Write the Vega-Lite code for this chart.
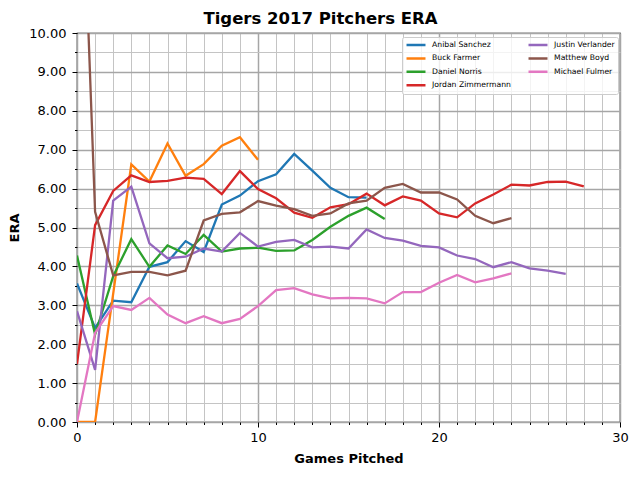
{
  "$schema": "https://vega.github.io/schema/vega-lite/v6.json",
  "width": 543,
  "height": 389,
  "autosize": {"type": "none"},
  "padding": {"left": 77, "top": 33, "right": 20, "bottom": 58},
  "title": {
    "text": "Tigers 2017 Pitchers ERA",
    "anchor": "middle",
    "dx": -28,
    "fontSize": 16.5,
    "fontWeight": "bold",
    "font": "DejaVu Sans",
    "color": "black",
    "offset": 0
  },
  "config": {
    "font": "DejaVu Sans",
    "view": {"stroke": "black", "strokeWidth": 1.2}
  },
  "data": {
    "values": [
      {"pitcher": "Anibal Sanchez", "game": 0, "era": 3.56},
      {"pitcher": "Anibal Sanchez", "game": 1, "era": 2.42},
      {"pitcher": "Anibal Sanchez", "game": 2, "era": 3.12},
      {"pitcher": "Anibal Sanchez", "game": 3, "era": 3.08},
      {"pitcher": "Anibal Sanchez", "game": 4, "era": 3.99},
      {"pitcher": "Anibal Sanchez", "game": 5, "era": 4.11},
      {"pitcher": "Anibal Sanchez", "game": 6, "era": 4.65},
      {"pitcher": "Anibal Sanchez", "game": 7, "era": 4.37},
      {"pitcher": "Anibal Sanchez", "game": 8, "era": 5.59},
      {"pitcher": "Anibal Sanchez", "game": 9, "era": 5.82},
      {"pitcher": "Anibal Sanchez", "game": 10, "era": 6.19},
      {"pitcher": "Anibal Sanchez", "game": 11, "era": 6.37},
      {"pitcher": "Anibal Sanchez", "game": 12, "era": 6.89},
      {"pitcher": "Anibal Sanchez", "game": 13, "era": 6.46},
      {"pitcher": "Anibal Sanchez", "game": 14, "era": 6.02},
      {"pitcher": "Anibal Sanchez", "game": 15, "era": 5.78},
      {"pitcher": "Anibal Sanchez", "game": 16, "era": 5.77},
      {"pitcher": "Buck Farmer", "game": 0, "era": 0.0},
      {"pitcher": "Buck Farmer", "game": 1, "era": 0.0},
      {"pitcher": "Buck Farmer", "game": 2, "era": 3.3},
      {"pitcher": "Buck Farmer", "game": 3, "era": 6.62},
      {"pitcher": "Buck Farmer", "game": 4, "era": 6.18},
      {"pitcher": "Buck Farmer", "game": 5, "era": 7.16},
      {"pitcher": "Buck Farmer", "game": 6, "era": 6.33},
      {"pitcher": "Buck Farmer", "game": 7, "era": 6.63},
      {"pitcher": "Buck Farmer", "game": 8, "era": 7.1},
      {"pitcher": "Buck Farmer", "game": 9, "era": 7.32},
      {"pitcher": "Buck Farmer", "game": 10, "era": 6.74},
      {"pitcher": "Daniel Norris", "game": 0, "era": 4.28},
      {"pitcher": "Daniel Norris", "game": 1, "era": 2.25},
      {"pitcher": "Daniel Norris", "game": 2, "era": 3.75},
      {"pitcher": "Daniel Norris", "game": 3, "era": 4.7},
      {"pitcher": "Daniel Norris", "game": 4, "era": 3.99},
      {"pitcher": "Daniel Norris", "game": 5, "era": 4.54},
      {"pitcher": "Daniel Norris", "game": 6, "era": 4.32},
      {"pitcher": "Daniel Norris", "game": 7, "era": 4.81},
      {"pitcher": "Daniel Norris", "game": 8, "era": 4.38},
      {"pitcher": "Daniel Norris", "game": 9, "era": 4.46},
      {"pitcher": "Daniel Norris", "game": 10, "era": 4.48},
      {"pitcher": "Daniel Norris", "game": 11, "era": 4.4},
      {"pitcher": "Daniel Norris", "game": 12, "era": 4.41},
      {"pitcher": "Daniel Norris", "game": 13, "era": 4.68},
      {"pitcher": "Daniel Norris", "game": 14, "era": 5.02},
      {"pitcher": "Daniel Norris", "game": 15, "era": 5.3},
      {"pitcher": "Daniel Norris", "game": 16, "era": 5.51},
      {"pitcher": "Daniel Norris", "game": 17, "era": 5.22},
      {"pitcher": "Jordan Zimmermann", "game": 0, "era": 1.49},
      {"pitcher": "Jordan Zimmermann", "game": 1, "era": 5.06},
      {"pitcher": "Jordan Zimmermann", "game": 2, "era": 5.94},
      {"pitcher": "Jordan Zimmermann", "game": 3, "era": 6.34},
      {"pitcher": "Jordan Zimmermann", "game": 4, "era": 6.17},
      {"pitcher": "Jordan Zimmermann", "game": 5, "era": 6.2},
      {"pitcher": "Jordan Zimmermann", "game": 6, "era": 6.28},
      {"pitcher": "Jordan Zimmermann", "game": 7, "era": 6.25},
      {"pitcher": "Jordan Zimmermann", "game": 8, "era": 5.86},
      {"pitcher": "Jordan Zimmermann", "game": 9, "era": 6.45},
      {"pitcher": "Jordan Zimmermann", "game": 10, "era": 5.99},
      {"pitcher": "Jordan Zimmermann", "game": 11, "era": 5.75},
      {"pitcher": "Jordan Zimmermann", "game": 12, "era": 5.38},
      {"pitcher": "Jordan Zimmermann", "game": 13, "era": 5.25},
      {"pitcher": "Jordan Zimmermann", "game": 14, "era": 5.52},
      {"pitcher": "Jordan Zimmermann", "game": 15, "era": 5.6},
      {"pitcher": "Jordan Zimmermann", "game": 16, "era": 5.87},
      {"pitcher": "Jordan Zimmermann", "game": 17, "era": 5.57},
      {"pitcher": "Jordan Zimmermann", "game": 18, "era": 5.8},
      {"pitcher": "Jordan Zimmermann", "game": 19, "era": 5.69},
      {"pitcher": "Jordan Zimmermann", "game": 20, "era": 5.36},
      {"pitcher": "Jordan Zimmermann", "game": 21, "era": 5.26},
      {"pitcher": "Jordan Zimmermann", "game": 22, "era": 5.62},
      {"pitcher": "Jordan Zimmermann", "game": 23, "era": 5.85},
      {"pitcher": "Jordan Zimmermann", "game": 24, "era": 6.1},
      {"pitcher": "Jordan Zimmermann", "game": 25, "era": 6.08},
      {"pitcher": "Jordan Zimmermann", "game": 26, "era": 6.17},
      {"pitcher": "Jordan Zimmermann", "game": 27, "era": 6.18},
      {"pitcher": "Jordan Zimmermann", "game": 28, "era": 6.06},
      {"pitcher": "Justin Verlander", "game": 0, "era": 2.85},
      {"pitcher": "Justin Verlander", "game": 1, "era": 1.34},
      {"pitcher": "Justin Verlander", "game": 2, "era": 5.69},
      {"pitcher": "Justin Verlander", "game": 3, "era": 6.05},
      {"pitcher": "Justin Verlander", "game": 4, "era": 4.59},
      {"pitcher": "Justin Verlander", "game": 5, "era": 4.21},
      {"pitcher": "Justin Verlander", "game": 6, "era": 4.25},
      {"pitcher": "Justin Verlander", "game": 7, "era": 4.46},
      {"pitcher": "Justin Verlander", "game": 8, "era": 4.38},
      {"pitcher": "Justin Verlander", "game": 9, "era": 4.86},
      {"pitcher": "Justin Verlander", "game": 10, "era": 4.51},
      {"pitcher": "Justin Verlander", "game": 11, "era": 4.63},
      {"pitcher": "Justin Verlander", "game": 12, "era": 4.68},
      {"pitcher": "Justin Verlander", "game": 13, "era": 4.49},
      {"pitcher": "Justin Verlander", "game": 14, "era": 4.51},
      {"pitcher": "Justin Verlander", "game": 15, "era": 4.46},
      {"pitcher": "Justin Verlander", "game": 16, "era": 4.95},
      {"pitcher": "Justin Verlander", "game": 17, "era": 4.73},
      {"pitcher": "Justin Verlander", "game": 18, "era": 4.66},
      {"pitcher": "Justin Verlander", "game": 19, "era": 4.53},
      {"pitcher": "Justin Verlander", "game": 20, "era": 4.49},
      {"pitcher": "Justin Verlander", "game": 21, "era": 4.28},
      {"pitcher": "Justin Verlander", "game": 22, "era": 4.19},
      {"pitcher": "Justin Verlander", "game": 23, "era": 3.98},
      {"pitcher": "Justin Verlander", "game": 24, "era": 4.11},
      {"pitcher": "Justin Verlander", "game": 25, "era": 3.95},
      {"pitcher": "Justin Verlander", "game": 26, "era": 3.89},
      {"pitcher": "Justin Verlander", "game": 27, "era": 3.81},
      {"pitcher": "Matthew Boyd", "game": 0, "era": 18.0},
      {"pitcher": "Matthew Boyd", "game": 1, "era": 5.4},
      {"pitcher": "Matthew Boyd", "game": 2, "era": 3.77},
      {"pitcher": "Matthew Boyd", "game": 3, "era": 3.86},
      {"pitcher": "Matthew Boyd", "game": 4, "era": 3.86},
      {"pitcher": "Matthew Boyd", "game": 5, "era": 3.77},
      {"pitcher": "Matthew Boyd", "game": 6, "era": 3.89},
      {"pitcher": "Matthew Boyd", "game": 7, "era": 5.18},
      {"pitcher": "Matthew Boyd", "game": 8, "era": 5.35},
      {"pitcher": "Matthew Boyd", "game": 9, "era": 5.39},
      {"pitcher": "Matthew Boyd", "game": 10, "era": 5.68},
      {"pitcher": "Matthew Boyd", "game": 11, "era": 5.56},
      {"pitcher": "Matthew Boyd", "game": 12, "era": 5.47},
      {"pitcher": "Matthew Boyd", "game": 13, "era": 5.3},
      {"pitcher": "Matthew Boyd", "game": 14, "era": 5.36},
      {"pitcher": "Matthew Boyd", "game": 15, "era": 5.62},
      {"pitcher": "Matthew Boyd", "game": 16, "era": 5.69},
      {"pitcher": "Matthew Boyd", "game": 17, "era": 6.02},
      {"pitcher": "Matthew Boyd", "game": 18, "era": 6.12},
      {"pitcher": "Matthew Boyd", "game": 19, "era": 5.9},
      {"pitcher": "Matthew Boyd", "game": 20, "era": 5.9},
      {"pitcher": "Matthew Boyd", "game": 21, "era": 5.72},
      {"pitcher": "Matthew Boyd", "game": 22, "era": 5.3},
      {"pitcher": "Matthew Boyd", "game": 23, "era": 5.11},
      {"pitcher": "Matthew Boyd", "game": 24, "era": 5.24},
      {"pitcher": "Michael Fulmer", "game": 0, "era": 0.0},
      {"pitcher": "Michael Fulmer", "game": 1, "era": 2.29},
      {"pitcher": "Michael Fulmer", "game": 2, "era": 2.98},
      {"pitcher": "Michael Fulmer", "game": 3, "era": 2.88},
      {"pitcher": "Michael Fulmer", "game": 4, "era": 3.19},
      {"pitcher": "Michael Fulmer", "game": 5, "era": 2.76},
      {"pitcher": "Michael Fulmer", "game": 6, "era": 2.54},
      {"pitcher": "Michael Fulmer", "game": 7, "era": 2.72},
      {"pitcher": "Michael Fulmer", "game": 8, "era": 2.54},
      {"pitcher": "Michael Fulmer", "game": 9, "era": 2.65},
      {"pitcher": "Michael Fulmer", "game": 10, "era": 2.98},
      {"pitcher": "Michael Fulmer", "game": 11, "era": 3.39},
      {"pitcher": "Michael Fulmer", "game": 12, "era": 3.44},
      {"pitcher": "Michael Fulmer", "game": 13, "era": 3.28},
      {"pitcher": "Michael Fulmer", "game": 14, "era": 3.18},
      {"pitcher": "Michael Fulmer", "game": 15, "era": 3.19},
      {"pitcher": "Michael Fulmer", "game": 16, "era": 3.18},
      {"pitcher": "Michael Fulmer", "game": 17, "era": 3.05},
      {"pitcher": "Michael Fulmer", "game": 18, "era": 3.34},
      {"pitcher": "Michael Fulmer", "game": 19, "era": 3.34},
      {"pitcher": "Michael Fulmer", "game": 20, "era": 3.58},
      {"pitcher": "Michael Fulmer", "game": 21, "era": 3.78},
      {"pitcher": "Michael Fulmer", "game": 22, "era": 3.59},
      {"pitcher": "Michael Fulmer", "game": 23, "era": 3.69},
      {"pitcher": "Michael Fulmer", "game": 24, "era": 3.82}
    ]
  },
  "mark": {"type": "line", "strokeWidth": 2.3, "clip": true},
  "encoding": {
    "x": {
      "field": "game",
      "type": "quantitative",
      "scale": {"domain": [0, 30], "nice": false},
      "axis": {
        "title": "Games Pitched",
        "titleFontSize": 13,
        "titleFontWeight": "bold",
        "titleColor": "black",
        "titlePadding": 8,
        "values": [0, 1, 2, 3, 4, 5, 6, 7, 8, 9, 10, 11, 12, 13, 14, 15, 16, 17, 18, 19, 20, 21, 22, 23, 24, 25, 26, 27, 28, 29, 30],
        "labelExpr": "datum.value % 10 === 0 ? datum.label : ''",
        "labelFontSize": 13,
        "labelColor": "black",
        "labelPadding": 4,
        "labelFlush": false,
        "domain": false,
        "grid": true,
        "gridColor": {"condition": {"test": "datum.value % 10 === 0", "value": "#a6a6a6"}, "value": "#c4c4c4"},
        "gridWidth": {"condition": {"test": "datum.value % 10 === 0", "value": 1.5}, "value": 1},
        "tickColor": "black",
        "tickSize": {"condition": {"test": "datum.value % 10 === 0", "value": 5}, "value": 2.5}
      }
    },
    "y": {
      "field": "era",
      "type": "quantitative",
      "scale": {"domain": [0, 10], "nice": false},
      "axis": {
        "title": "ERA",
        "titleFontSize": 13,
        "titleFontWeight": "bold",
        "titleColor": "black",
        "titlePadding": 7,
        "values": [0, 0.5, 1, 1.5, 2, 2.5, 3, 3.5, 4, 4.5, 5, 5.5, 6, 6.5, 7, 7.5, 8, 8.5, 9, 9.5, 10],
        "labelExpr": "datum.value % 1 === 0 ? format(datum.value, '.2f') : ''",
        "labelFontSize": 13,
        "labelColor": "black",
        "labelPadding": 6,
        "labelFlush": false,
        "domain": false,
        "grid": true,
        "gridColor": {"condition": {"test": "datum.value % 1 === 0", "value": "#a6a6a6"}, "value": "#c4c4c4"},
        "gridWidth": {"condition": {"test": "datum.value % 1 === 0", "value": 1.5}, "value": 1},
        "tickColor": "black",
        "tickSize": {"condition": {"test": "datum.value % 1 === 0", "value": 5}, "value": 2.5}
      }
    },
    "color": {
      "field": "pitcher",
      "type": "nominal",
      "scale": {
        "domain": ["Anibal Sanchez", "Buck Farmer", "Daniel Norris", "Jordan Zimmermann", "Justin Verlander", "Matthew Boyd", "Michael Fulmer"],
        "range": ["#1f77b4", "#ff7f0e", "#2ca02c", "#d62728", "#9467bd", "#8c564b", "#e377c2"]
      },
      "legend": {
        "title": null,
        "orient": "none",
        "legendX": 325,
        "legendY": 4,
        "columns": 2,
        "symbolType": "stroke",
        "symbolSize": 360,
        "symbolStrokeWidth": 2.5,
        "clipHeight": 10,
        "labelFontSize": 7.7,
        "labelColor": "black",
        "labelLimit": 200,
        "labelOffset": 5,
        "rowPadding": 3.4,
        "columnPadding": 16,
        "padding": 3,
        "fillColor": "rgba(255,255,255,0.8)",
        "strokeColor": "#cccccc",
        "cornerRadius": 2
      }
    }
  }
}
